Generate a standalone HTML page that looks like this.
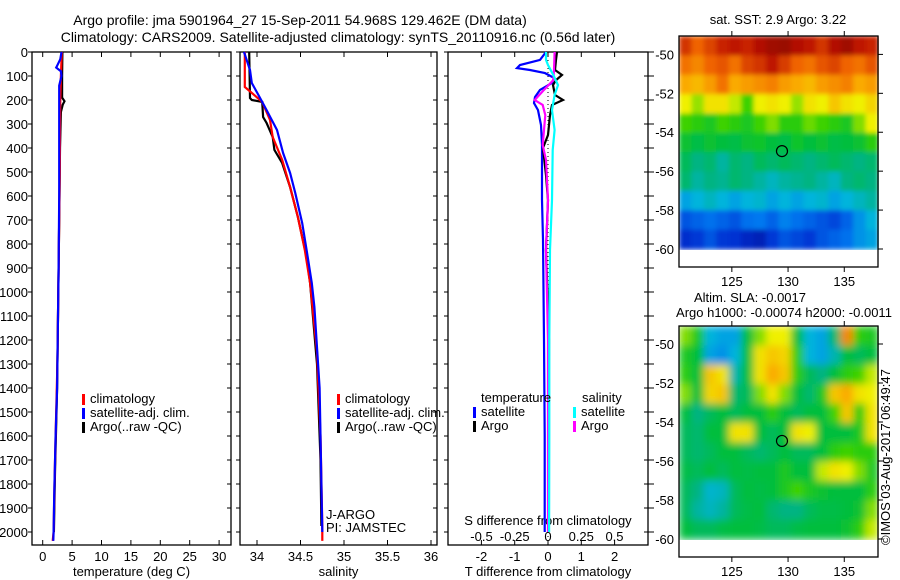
<!DOCTYPE html>
<html><head><meta charset="utf-8"><style>
html,body{margin:0;padding:0;background:#fff;}
svg{display:block;font-family:"Liberation Sans",sans-serif;}
text{font-size:13px;fill:#000;}
.ttl{font-size:14px;}
</style></head><body>
<svg id="fig" width="900" height="580" viewBox="0 0 900 580" xmlns="http://www.w3.org/2000/svg">
<defs>
<filter id="blur" x="0" y="0" width="1" height="1"><feGaussianBlur stdDeviation="4" edgeMode="duplicate"/></filter>
<filter id="blur2" x="0" y="0" width="1" height="1"><feGaussianBlur stdDeviation="2.5" edgeMode="duplicate"/></filter>
</defs>
<text class="ttl" x="300" y="25" text-anchor="middle">Argo profile: jma 5901964_27 15-Sep-2011 54.968S 129.462E (DM data)</text>
<text class="ttl" x="338" y="42" text-anchor="middle">Climatology: CARS2009. Satellite-adjusted climatology: synTS_20110916.nc (0.56d later)</text>
<text x="778" y="24" text-anchor="middle">sat. SST: 2.9 Argo: 3.22</text>
<text x="750" y="302" text-anchor="middle">Altim. SLA: -0.0017</text>
<text x="784" y="317" text-anchor="middle">Argo h1000: -0.00074 h2000: -0.0011</text>
<text transform="translate(890,545) rotate(-90)">©IMOS 03-Aug-2017 06:49:47</text>
<g id="g1"></g><g id="g2"></g><g id="g3"></g><g id="gm1"></g><g id="gm2"></g>
</svg>
<script>
// ---- data ----
const depthTicks=[0,100,200,300,400,500,600,700,800,900,1000,1100,1200,1300,1400,1500,1600,1700,1800,1900,2000];
const tempTicks=[0,5,10,15,20,25,30];
const salTicks=[34,34.5,35,35.5,36];
const salTickLabels=["34","34.5","35","35.5","36"];
const tdTicks=[-2,-1,0,1,2];
const sdTicks=[-0.5,-0.25,0,0.25,0.5];
const sdTickLabels=["-0.5","-0.25","0","0.25","0.5"];
// temperature
const tClimDepth=[0,100,200,300,500,800,1000,1300,1600,1800,2000,2037];
const tClimVal=[3.25,3.1,3.0,2.95,2.9,2.75,2.65,2.5,2.2,2.0,1.85,1.7];
const tSatDepth=[0,30,55,65,80,100,140,300,600,900,1400,1600,1850,2000,2037];
const tSatVal=[3.2,3.0,2.5,2.3,3.1,3.2,2.8,2.8,2.8,2.7,2.45,2.2,1.95,1.85,1.8];
const tArgoDepth=[0,100,190,205,220,250,400,700,1000,1400,1750,2000];
const tArgoVal=[3.35,3.3,3.3,3.7,3.4,3.1,2.95,2.8,2.65,2.45,2.1,1.9];
// salinity
const sClimDepth=[0,146,167,208,283,354,450,563,688,825,963,1250,1600,1975,2037];
const sClimVal=[33.86,33.86,33.93,34.06,34.15,34.18,34.29,34.38,34.47,34.55,34.61,34.69,34.73,34.75,34.75];
const sSatDepth=[0,75,129,188,242,325,421,504,588,713,825,963,1063,1400,2000];
const sSatVal=[33.85,33.92,33.94,34.03,34.11,34.23,34.30,34.38,34.44,34.52,34.57,34.63,34.66,34.72,34.75];
const sArgoDepth=[0,192,200,208,271,296,354,408,463,563,688,854,963,1300,1700,1975];
const sArgoVal=[33.91,33.92,33.94,34.06,34.07,34.11,34.18,34.20,34.29,34.38,34.47,34.57,34.61,34.69,34.73,34.74];
// differences
const dTSatDepth=[0,33,54,67,75,88,108,129,158,188,213,242,304,388,492,617,783,1200,1600,2000];
const dTSatVal=[-0.06,-0.24,-0.84,-0.93,-0.54,-0.09,0.18,0.12,-0.24,-0.39,-0.42,-0.3,-0.21,-0.18,-0.18,-0.18,-0.15,-0.12,-0.1,-0.1];
const dTArgoDepth=[0,33,75,96,117,138,179,200,221,263,346,400,513,617,825,1200,1600,2000];
const dTArgoVal=[0.27,0.24,0.21,0.42,0.24,0.15,0.21,0.45,0.12,0.06,0.0,-0.15,-0.06,0.0,-0.06,0.03,0.02,0.02];
const dSSatDepth=[0,33,54,96,138,179,242,325,408,617,825,1200,1600,2000];
const dSSatVal=[-0.015,-0.015,0.0,0.04,0.075,0.05,0.03,0.05,0.035,0.03,0.015,0.01,0.01,0.008];
const dSArgoDepth=[0,75,117,158,200,221,263,325,388,450,617,825,1200,2000];
const dSArgoVal=[0.05,0.045,0.04,-0.03,-0.1,-0.04,-0.02,-0.03,-0.04,-0.015,0.0,-0.015,0.0,0.0];
// maps (rows lat -49.5..-59.5, cols lon 120.8..137.5), colour index 0..1
const sstGrid=[
[.86,.8,.84,.88,.9,.88,.92,.95,.96,.92,.9,.86,.92,.95,.9,.88],
[.78,.75,.8,.82,.78,.84,.86,.9,.85,.8,.78,.82,.84,.8,.78,.82],
[.7,.68,.72,.78,.7,.72,.74,.76,.72,.7,.68,.72,.74,.76,.7,.72],
[.6,.56,.62,.62,.58,.52,.6,.62,.6,.56,.62,.6,.66,.62,.6,.64],
[.52,.5,.48,.52,.5,.48,.52,.55,.5,.5,.54,.52,.5,.48,.55,.6],
[.46,.44,.46,.45,.44,.46,.47,.45,.44,.47,.45,.46,.44,.45,.46,.5],
[.42,.38,.4,.36,.4,.38,.42,.4,.42,.4,.38,.4,.42,.4,.38,.4],
[.4,.36,.38,.37,.4,.38,.36,.34,.36,.37,.38,.36,.34,.38,.4,.38],
[.3,.32,.34,.32,.3,.32,.33,.3,.32,.3,.32,.33,.3,.32,.34,.36],
[.2,.22,.24,.22,.2,.24,.25,.22,.26,.24,.22,.2,.18,.22,.28,.32],
[.14,.16,.2,.16,.15,.12,.1,.16,.2,.18,.16,.2,.22,.24,.28,.3]];
const slaGrid=[
[.55,.48,.32,.3,.3,.45,.55,.6,.6,.45,.32,.3,.4,.75,.5,.48],
[.48,.45,.3,.28,.32,.45,.62,.66,.64,.5,.32,.3,.35,.45,.42,.45],
[.5,.45,.66,.62,.35,.45,.62,.7,.66,.5,.42,.38,.45,.5,.52,.58],
[.55,.45,.64,.66,.4,.42,.55,.62,.55,.45,.4,.48,.66,.7,.62,.6],
[.45,.38,.42,.45,.42,.45,.45,.5,.45,.42,.45,.45,.52,.66,.5,.62],
[.42,.4,.45,.45,.62,.62,.45,.42,.45,.62,.6,.45,.45,.45,.48,.62],
[.42,.4,.42,.45,.45,.42,.4,.42,.45,.42,.42,.45,.5,.52,.5,.5],
[.44,.42,.45,.42,.45,.44,.45,.45,.48,.45,.45,.58,.62,.6,.55,.48],
[.42,.38,.33,.34,.42,.45,.44,.45,.48,.52,.48,.46,.45,.45,.45,.5],
[.42,.36,.34,.36,.42,.44,.45,.4,.38,.38,.42,.44,.44,.45,.46,.55],
[.45,.42,.42,.44,.45,.45,.44,.42,.42,.44,.45,.45,.45,.46,.5,.58]];
const mapLatTicks=[-50,-52,-54,-56,-58,-60];
const mapLonTicks=[125,130,135];
const argoLon=129.46, argoLat=-54.97;

// ---- helpers ----
const NS="http://www.w3.org/2000/svg";
function mk(tag,attrs,parent){const e=document.createElementNS(NS,tag);for(const k in attrs)e.setAttribute(k,attrs[k]);parent.appendChild(e);return e;}
function txt(parent,x,y,s,anchor){const t=mk('text',{x:x,y:y,'text-anchor':anchor||'start'},parent);t.textContent=s;return t;}
const Y0=52, PXD=0.24;
function yD(d){return Y0+d*PXD;}
const TOP=52, BOT=545;

function panel(g,name,x0,x1,xs,ticks,labels,title){
  const r=mk('rect',{x:x0,y:TOP,width:x1-x0,height:BOT-TOP,fill:'none',stroke:'#000','stroke-width':1.3},g);
  
  
  depthTicks.forEach(d=>{
    mk('line',{x1:x0-4,x2:x0,y1:yD(d),y2:yD(d),stroke:'#000'},g);
    mk('line',{x1:x1-4,x2:x1+(name==='diff-panel'?6:0),y1:yD(d),y2:yD(d),stroke:'#000'},g);
  });
  ticks.forEach((v,i)=>{
    const x=xs(v);
    mk('line',{x1:x,x2:x,y1:BOT,y2:BOT-5,stroke:'#000'},g);
    mk('line',{x1:x,x2:x,y1:TOP,y2:TOP+5,stroke:'#000'},g);
    const t=txt(g,x,561,labels[i],'middle');
    
    
  });
  const tt=txt(g,(x0+x1)/2,576,title,'middle');
  
  
}
function line(g,name,xs,depths,vals,color,w){
  const pts=depths.map((d,i)=>xs(vals[i]).toFixed(1)+','+yD(d).toFixed(1)).join(' ');
  const p=mk('polyline',{points:pts,fill:'none',stroke:color,'stroke-width':w||2.2},g);
  
  
}
function legend(g,name,x,y,color,label){
  mk('rect',{x:x,y:y-9,width:3,height:11,fill:color},g);
  const t=txt(g,x+8,y,label);
  
  
}

// ---- panel 1: temperature ----
const g1=document.getElementById('g1');
const xT=v=>42.7+v*5.88;
panel(g1,'temperature-panel',32,231,xT,tempTicks,tempTicks.map(String),'temperature (deg C)');
depthTicks.forEach(d=>{const t=txt(g1,28,yD(d)+5,String(d),'end');
  
  });
line(g1,'temp-argo-line',xT,tArgoDepth,tArgoVal,'#000');
line(g1,'temp-climatology-line',xT,tClimDepth,tClimVal,'#f00');
line(g1,'temp-satellite-line',xT,tSatDepth,tSatVal,'#00f');
legend(g1,'legend-climatology',82,403,'#f00','climatology');
legend(g1,'legend-satellite-adj',82,417,'#00f','satellite-adj. clim.');
legend(g1,'legend-argo',82,431,'#000','Argo(..raw -QC)');

// ---- panel 2: salinity ----
const g2=document.getElementById('g2');
const xS=v=>257+(v-34)*87;
panel(g2,'salinity-panel',240,437,xS,salTicks,salTickLabels,'salinity');
line(g2,'sal-argo-line',xS,sArgoDepth,sArgoVal,'#000');
line(g2,'sal-climatology-line',xS,sClimDepth,sClimVal,'#f00');
line(g2,'sal-satellite-line',xS,sSatDepth,sSatVal,'#00f');
legend(g2,'legend-climatology-2',337,403,'#f00','climatology');
legend(g2,'legend-satellite-adj-2',337,417,'#00f','satellite-adj. clim.');
legend(g2,'legend-argo-2',337,431,'#000','Argo(..raw -QC)');
let t=txt(g2,326,519,'J-ARGO');


t=txt(g2,326,532,'PI: JAMSTEC');



// ---- panel 3: differences ----
const g3=document.getElementById('g3');
const xTD=v=>548+v*33.3;
const xSD=v=>548+v*133;
panel(g3,'diff-panel',448,648,xTD,tdTicks,tdTicks.map(String),'T difference from climatology');
sdTicks.forEach((v,i)=>{const tl=txt(g3,xSD(v),541,sdTickLabels[i],'middle');
  
  });
t=txt(g3,548,525,'S difference from climatology','middle');


mk('line',{x1:548,x2:548,y1:TOP,y2:BOT,stroke:'#000','stroke-dasharray':'1,3'},g3);
line(g3,'tdiff-satellite-line',xTD,dTSatDepth,dTSatVal,'#00f');
line(g3,'tdiff-argo-line',xTD,dTArgoDepth,dTArgoVal,'#000');
line(g3,'sdiff-argo-line',xSD,dSArgoDepth,dSArgoVal,'#f0f');
line(g3,'sdiff-satellite-line',xSD,dSSatDepth,dSSatVal,'#0ff');
t=txt(g3,481,402,'temperature');


t=txt(g3,582,402,'salinity');


legend(g3,'legend-t-satellite',473,416,'#00f','satellite');
legend(g3,'legend-t-argo',473,430,'#000','Argo');
legend(g3,'legend-s-satellite',573,416,'#0ff','satellite');
legend(g3,'legend-s-argo',573,430,'#f0f','Argo');

// ---- maps ----
const cmapStops=[[0,0,0,130],[.15,0,50,210],[.25,0,120,240],[.32,0,180,220],[.38,0,180,130],[.45,0,190,60],[.52,60,210,0],[.6,240,240,0],[.7,250,170,0],[.8,240,100,0],[.9,190,20,0],[1,130,0,0]];
function cmap(v){v=Math.max(0,Math.min(1,v));
  for(let i=1;i<cmapStops.length;i++){const a=cmapStops[i-1],b=cmapStops[i];
    if(v<=b[0]){const f=(v-a[0])/(b[0]-a[0]);
      return 'rgb('+[1,2,3].map(k=>Math.round(a[k]+(b[k]-a[k])*f)).join(',')+')';}}
  return 'rgb(130,0,0)';}
function drawMap(g,name,grid,top,bot,lat50,lat60,filt){
  const X0=679,X1=878,lonL=120.3,lonR=138.0;
  const xL=lon=>X0+(lon-lonL)/(lonR-lonL)*(X1-X0);
  const yL=lat=>lat50+(-50-lat)/10*(lat60-lat50);
  const nr=grid.length,nc=grid[0].length;
  const cw=(X1-X0)/nc, rh=(yL(-60)-top)/nr;
  const cg=mk('g',{filter:'url(#'+filt+')'},g);
  
  
  grid.forEach((row,i)=>row.forEach((v,j)=>{
    const c=mk('rect',{x:(X0+j*cw).toFixed(1),y:(top+i*rh).toFixed(1),width:(cw+0.6).toFixed(1),height:(rh+0.6).toFixed(1),fill:cmap(v)},cg);
    
    
  }));
  const fr=mk('rect',{x:X0,y:top,width:X1-X0,height:bot-top,fill:'none',stroke:'#000','stroke-width':1.3},g);
  
  
  mapLatTicks.forEach(l=>{const y=yL(l);
    mk('line',{x1:X1,x2:X1+5,y1:y,y2:y,stroke:'#000'},g);
    const tl=txt(g,674,y+5,String(l),'end');
    
    });
  mapLonTicks.forEach(l=>{const x=xL(l);
    mk('line',{x1:x,x2:x,y1:top-5,y2:top,stroke:'#000'},g);
    mk('line',{x1:x,x2:x,y1:bot,y2:bot+5,stroke:'#000'},g);
    const tl=txt(g,x,bot+19,String(l),'middle');
    
    });
  const m=mk('circle',{cx:xL(argoLon),cy:yL(argoLat),r:5.5,fill:'none',stroke:'#000','stroke-width':1.2},g);
  
  
}
drawMap(document.getElementById('gm1'),'sst-map',sstGrid,36,267,54.4,249,'blur2');
drawMap(document.getElementById('gm2'),'sla-map',slaGrid,326,557,344,539,'blur');
</script>
</body></html>
